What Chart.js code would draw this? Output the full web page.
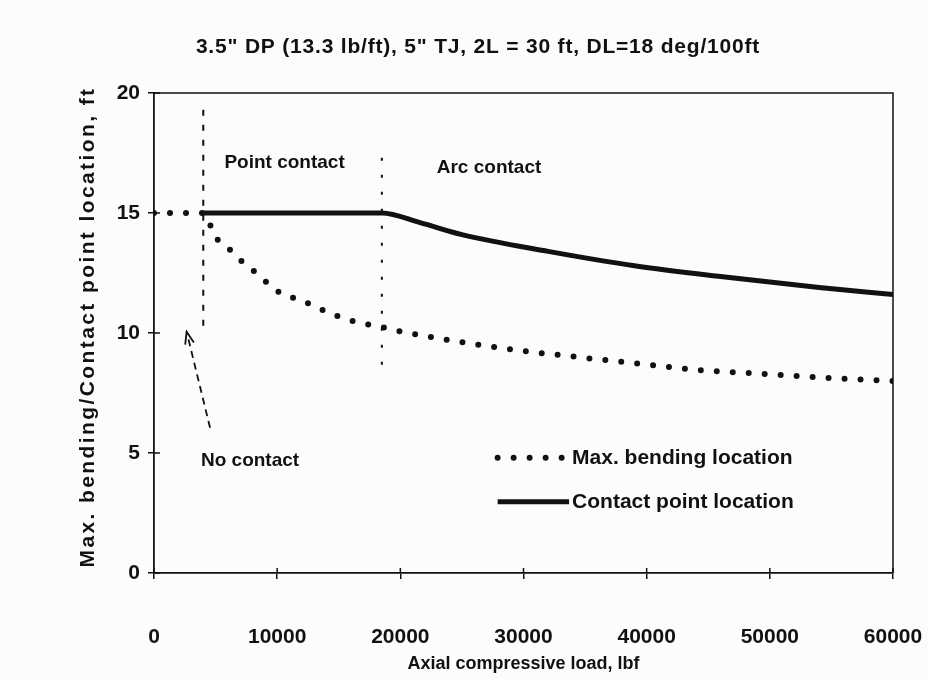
<!DOCTYPE html>
<html>
<head>
<meta charset="utf-8">
<script src="https://cdn.jsdelivr.net/npm/chart.js@4.4.1/dist/chart.umd.min.js"></script>
<style>
  html, body { margin: 0; padding: 0; background: #fcfcfc; }
  #wrap { width: 928px; height: 679px; }
</style>
</head>
<body>
<div id="wrap"><canvas id="plot"></canvas></div>
<script>
// chart text
const titleText = '3.5" DP (13.3 lb/ft), 5" TJ, 2L = 30 ft, DL=18 deg/100ft';
const xTitle = 'Axial compressive load, lbf';
const yTitle = 'Max. bending/Contact point location, ft';
const seriesNames = ['Max. bending location', 'Contact point location'];

// axes
const xTicks = [0, 10000, 20000, 30000, 40000, 50000, 60000];
const yTicks = [0, 5, 10, 15, 20];

// max bending location vs load
const bendLoad = [0, 4000, 5000, 6100, 7100, 8300, 9400, 10500, 11800, 13100, 14400, 15800, 17000, 18500,
                  20200, 22900, 25400, 28100, 30800, 33500, 36100, 38900, 44200, 49400, 54700, 60000];
const bendLoc  = [15, 15, 14.0, 13.5, 13.0, 12.5, 12.0, 11.6, 11.4, 11.1, 10.8, 10.55, 10.4, 10.25,
                  10.04, 9.8, 9.58, 9.38, 9.2, 9.05, 8.9, 8.75, 8.46, 8.3, 8.13, 8.0];

// contact point location vs load
const contactLoad = [4000, 18500, 21600, 25000, 32000, 39000, 46000, 54000, 60000];
const contactLoc  = [15, 15, 14.6, 14.1, 13.4, 12.8, 12.35, 11.9, 11.6];

// loads where point contact and arc contact begin
const regionEdges = [4000, 18500];

const FONT = "'Liberation Sans', Arial, sans-serif";
const INK = '#111';

const toXY = (xs, ys) => xs.map((x, i) => ({ x, y: ys[i] }));

function fontStr(size) { return 'bold ' + size + 'px ' + FONT; }

// frame, region markers, annotations, legend and titles
const decorations = {
  id: 'decorations',
  afterDatasetsDraw(chart) {
    const { ctx, chartArea: a, scales: { x, y } } = chart;
    ctx.save();
    ctx.strokeStyle = INK;
    ctx.fillStyle = INK;

    // top and right frame
    ctx.lineWidth = 1.5;
    ctx.beginPath();
    ctx.moveTo(a.left, a.top); ctx.lineTo(a.right, a.top); ctx.lineTo(a.right, a.bottom);
    ctx.stroke();

    // inward half of the tick crosses
    yTicks.forEach(v => {
      const py = y.getPixelForValue(v);
      ctx.beginPath(); ctx.moveTo(a.left, py); ctx.lineTo(a.left + 6, py); ctx.stroke();
    });
    xTicks.forEach(v => {
      const px = x.getPixelForValue(v);
      ctx.beginPath(); ctx.moveTo(px, a.bottom); ctx.lineTo(px, a.bottom - 5); ctx.stroke();
    });

    // region boundaries
    ctx.lineWidth = 2;
    ctx.setLineDash([6, 9]);
    let px = x.getPixelForValue(regionEdges[0]);
    ctx.beginPath(); ctx.moveTo(px, y.getPixelForValue(19.3)); ctx.lineTo(px, y.getPixelForValue(10)); ctx.stroke();
    ctx.setLineDash([3, 14]);
    px = x.getPixelForValue(regionEdges[1]);
    ctx.beginPath(); ctx.moveTo(px, y.getPixelForValue(17.3)); ctx.lineTo(px, y.getPixelForValue(8.6)); ctx.stroke();

    // dashed arrow to the no-contact zone
    const tx = x.getPixelForValue(4550), ty = y.getPixelForValue(6.05);
    const hx = x.getPixelForValue(2650), hy = y.getPixelForValue(10.05);
    ctx.lineWidth = 1.8;
    ctx.setLineDash([7, 5]);
    ctx.beginPath(); ctx.moveTo(tx, ty); ctx.lineTo(hx, hy); ctx.stroke();
    ctx.setLineDash([]);
    const ang = Math.atan2(hy - ty, hx - tx);
    ctx.beginPath();
    ctx.moveTo(hx - 13 * Math.cos(ang - 0.35), hy - 13 * Math.sin(ang - 0.35));
    ctx.lineTo(hx, hy);
    ctx.lineTo(hx - 13 * Math.cos(ang + 0.35), hy - 13 * Math.sin(ang + 0.35));
    ctx.stroke();

    // region labels
    ctx.font = fontStr(19);
    ctx.textBaseline = 'middle';
    ctx.textAlign = 'center';
    ctx.fillText('Point contact', x.getPixelForValue(10600), y.getPixelForValue(17.1));
    ctx.fillText('Arc contact', x.getPixelForValue(27200), y.getPixelForValue(16.9));
    ctx.fillText('No contact', x.getPixelForValue(7800), y.getPixelForValue(4.67));

    // legend
    ctx.font = fontStr(21);
    const lx0 = x.getPixelForValue(27900), lx1 = x.getPixelForValue(33700);
    const rows = [4.8, 2.97];
    chart.data.datasets.forEach((ds, i) => {
      const ly = y.getPixelForValue(rows[i]);
      ctx.lineWidth = ds.borderWidth;
      ctx.lineCap = ds.borderCapStyle || 'butt';
      ctx.setLineDash(ds.borderDash || []);
      ctx.beginPath(); ctx.moveTo(lx0, ly); ctx.lineTo(lx1, ly); ctx.stroke();
      ctx.setLineDash([]);
      ctx.textAlign = 'left';
      ctx.fillText(ds.label, lx1 + 3, ly);
    });

    // chart title
    ctx.font = fontStr(21);
    ctx.letterSpacing = '0.8px';
    ctx.textAlign = 'center';
    ctx.fillText(titleText, 478, 47);

    // y axis title, rotated
    ctx.translate(88, (a.top + a.bottom) / 2 - 6);
    ctx.rotate(-Math.PI / 2);
    ctx.font = fontStr(21);
    ctx.letterSpacing = '2.4px';
    ctx.fillText(yTitle, 0, 0);
    // letterSpacing is not always restored with the rest of the state
    ctx.letterSpacing = '0px';
    ctx.restore();
  }
};

new Chart(document.getElementById('plot'), {
  type: 'scatter',
  data: {
    datasets: [
      {
        label: seriesNames[0],
        data: toXY(bendLoad, bendLoc),
        showLine: true,
        borderColor: INK,
        borderWidth: 6,
        borderDash: [0, 16],
        borderCapStyle: 'round',
        pointRadius: 0,
        cubicInterpolationMode: 'monotone'
      },
      {
        label: seriesNames[1],
        data: toXY(contactLoad, contactLoc),
        showLine: true,
        borderColor: INK,
        borderWidth: 5,
        pointRadius: 0,
        cubicInterpolationMode: 'monotone'
      }
    ]
  },
  options: {
    responsive: true,
    maintainAspectRatio: false,
    animation: false,
    layout: { padding: { top: 93, right: 35, left: 0, bottom: 0 } },
    plugins: { legend: { display: false }, tooltip: { enabled: false } },
    scales: {
      x: {
        type: 'linear',
        min: 0, max: 60000,
        afterBuildTicks: s => { s.ticks = xTicks.map(v => ({ value: v })); },
        ticks: { color: INK, font: { family: FONT, size: 21, weight: 'bold' }, padding: 46,
                 maxRotation: 0, callback: v => String(v) },
        grid: { drawOnChartArea: false, color: INK, tickLength: 6, lineWidth: 1.5 },
        border: { color: INK, width: 1.8 },
        title: { display: true, text: xTitle, color: INK,
                 font: { family: FONT, size: 18, weight: 'bold' }, padding: { top: 4, bottom: 4 } },
        // fixed axis band; the edge labels may overhang the plot
        afterFit: s => { s.height = 106; s.paddingLeft = 0; s.paddingRight = 0; }
      },
      y: {
        min: 0, max: 20,
        afterBuildTicks: s => { s.ticks = yTicks.map(v => ({ value: v })); },
        ticks: { color: INK, font: { family: FONT, size: 21, weight: 'bold' }, padding: 8 },
        grid: { drawOnChartArea: false, color: INK, tickLength: 6, lineWidth: 1.5 },
        border: { color: INK, width: 1.8 },
        afterFit: s => { s.width = 154; }
      }
    }
  },
  plugins: [decorations]
});
</script>
</body>
</html>
